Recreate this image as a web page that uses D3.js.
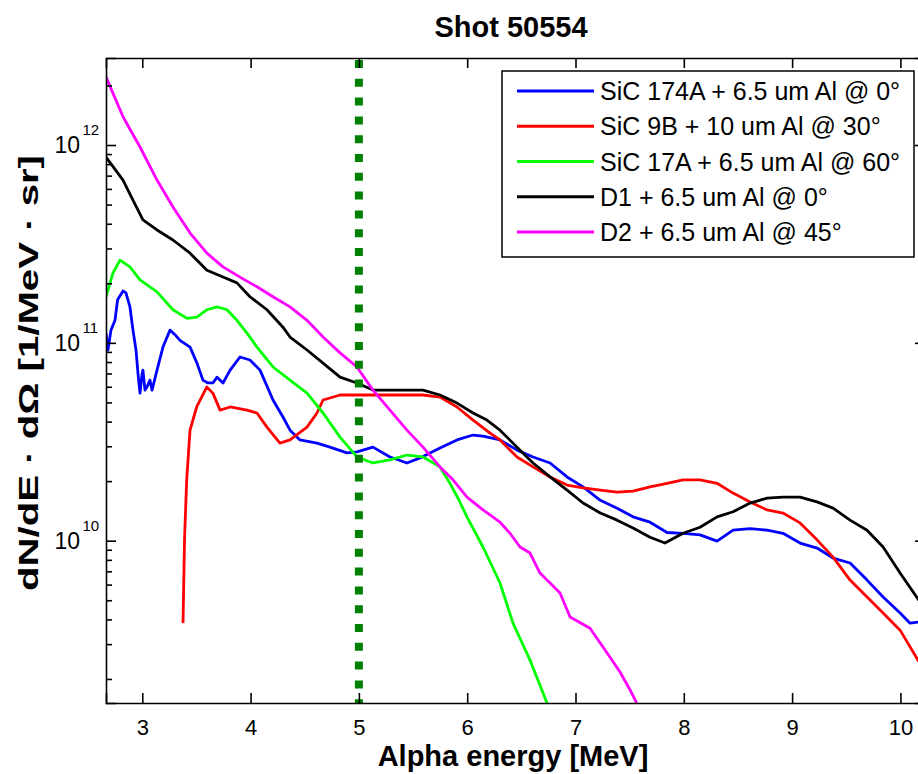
<!DOCTYPE html>
<html><head><meta charset="utf-8">
<script src="https://cdn.jsdelivr.net/npm/d3@7"></script>
<style>
html,body{margin:0;padding:0;background:#fff;}
svg{display:block;font-family:"Liberation Sans",Arial,sans-serif;}
</style></head>
<body>
<svg id="chart" width="918" height="774"></svg>
<script>
// ---------- data ----------
const title = "Shot 50554";
const xLabel = "Alpha energy [MeV]";
const yLabel = "dN/dE · dΩ [1/MeV · sr]";
const xTicks = [3,4,5,6,7,8,9,10];
const yMajorTicks = [1e10,1e11,1e12];
const yTickExponents = ["10","11","12"];
const xDomain = [2.665, 10.227];
const yDomain = [1.512e9, 2.753e12];
const cutEnergy = 5;

const seriesNames = [
  "SiC 174A + 6.5 um Al @ 0°",
  "SiC 9B + 10 um Al @ 30°",
  "SiC 17A + 6.5 um Al @ 60°",
  "D1 + 6.5 um Al @ 0°",
  "D2 + 6.5 um Al @ 45°"
];
const seriesColors = ["#0000ff","#ff0000","#00ff00","#000000","#ff00ff"];

const sic174A = [
 [2.665,1.12e11],[2.683,9.2e10],[2.711,1.16e11],[2.748,1.30e11],[2.772,1.65e11],[2.822,1.83e11],
 [2.849,1.79e11],[2.886,1.52e11],[2.914,1.16e11],[2.942,9.2e10],[2.960,7.03e10],[2.979,5.57e10],
 [2.997,6.9e10],[3.006,7.28e10],[3.025,5.77e10],[3.043,5.98e10],[3.071,6.48e10],[3.090,5.77e10],
 [3.136,7.28e10],[3.191,9.52e10],[3.256,1.16e11],[3.302,1.10e11],[3.348,1.03e11],[3.441,9.52e10],
 [3.505,7.9e10],[3.560,6.48e10],[3.606,6.27e10],[3.652,6.27e10],[3.690,6.71e10],[3.745,6.27e10],
 [3.811,7.28e10],[3.902,8.48e10],[3.994,8.19e10],[4.087,7.28e10],[4.207,5.14e10],[4.299,4.22e10],
 [4.364,3.62e10],[4.456,3.23e10],[4.613,3.11e10],[4.733,2.97e10],[4.890,2.78e10],[4.982,2.81e10],
 [5.130,2.97e10],[5.287,2.65e10],[5.444,2.47e10],[5.564,2.62e10],[5.749,2.94e10],[5.906,3.23e10],
 [6.054,3.42e10],[6.146,3.38e10],[6.303,3.23e10],[6.460,2.87e10],[6.608,2.65e10],[6.765,2.47e10],
 [6.922,2.10e10],[7.070,1.87e10],[7.229,1.60e10],[7.384,1.46e10],[7.531,1.32e10],[7.688,1.24e10],
 [7.845,1.10e10],[7.993,1.09e10],[8.150,1.07e10],[8.307,9.95e9],[8.455,1.13e10],[8.612,1.15e10],
 [8.769,1.13e10],[8.916,1.09e10],[9.073,9.73e9],[9.230,9.18e9],[9.378,8.17e9],[9.535,7.71e9],
 [9.692,6.32e9],[9.840,5.19e9],[9.997,4.31e9],[10.089,3.83e9],[10.17,3.88e9]
];
const sic9B = [
 [3.376,3.83e9],[3.390,1.01e10],[3.410,2.03e10],[3.441,3.62e10],[3.502,4.74e10],[3.595,5.98e10],
 [3.652,5.57e10],[3.718,4.57e10],[3.811,4.74e10],[3.967,4.57e10],[4.059,4.42e10],[4.151,3.75e10],
 [4.271,3.11e10],[4.364,3.23e10],[4.521,3.75e10],[4.613,4.42e10],[4.669,5.14e10],[4.826,5.45e10],
 [4.982,5.45e10],[5.287,5.45e10],[5.592,5.45e10],[5.749,5.32e10],[5.906,4.74e10],[6.054,4.07e10],
 [6.211,3.50e10],[6.303,3.23e10],[6.460,2.65e10],[6.608,2.36e10],[6.765,2.10e10],[6.922,1.91e10],
 [7.070,1.85e10],[7.229,1.80e10],[7.384,1.76e10],[7.531,1.78e10],[7.688,1.87e10],[7.845,1.95e10],
 [7.993,2.03e10],[8.150,2.03e10],[8.307,1.95e10],[8.455,1.74e10],[8.612,1.57e10],[8.769,1.43e10],
 [8.916,1.38e10],[9.073,1.23e10],[9.230,1.01e10],[9.378,8.26e9],[9.535,6.32e9],[9.692,5.19e9],
 [9.840,4.31e9],[9.997,3.53e9],[10.17,2.45e9]
];
const sic17A = [
 [2.665,1.71e11],[2.729,2.25e11],[2.794,2.62e11],[2.886,2.42e11],[2.979,2.08e11],[3.136,1.81e11],
 [3.283,1.47e11],[3.413,1.33e11],[3.505,1.35e11],[3.597,1.47e11],[3.690,1.52e11],[3.782,1.47e11],
 [3.874,1.30e11],[3.967,1.12e11],[4.059,9.52e10],[4.207,7.55e10],[4.364,6.48e10],[4.521,5.57e10],
 [4.669,4.42e10],[4.826,3.34e10],[4.982,2.65e10],[5.130,2.47e10],[5.287,2.56e10],[5.444,2.71e10],
 [5.592,2.65e10],[5.749,2.36e10],[5.841,1.95e10],[5.920,1.62e10],[5.998,1.32e10],[6.146,9.29e9],
 [6.303,6.11e9],[6.423,3.83e9],[6.580,2.49e9],[6.672,1.86e9],[6.737,1.51e9]
];
const d1 = [
 [2.665,8.69e11],[2.822,6.65e11],[2.914,5.27e11],[3.006,4.18e11],[3.136,3.72e11],[3.283,3.31e11],
 [3.441,2.84e11],[3.597,2.33e11],[3.745,2.15e11],[3.874,2.01e11],[3.994,1.71e11],[4.151,1.47e11],
 [4.299,1.20e11],[4.364,1.07e11],[4.521,9.2e10],[4.669,7.9e10],[4.826,6.71e10],[4.982,6.27e10],
 [5.130,5.77e10],[5.444,5.77e10],[5.592,5.77e10],[5.749,5.45e10],[5.906,4.96e10],[6.054,4.42e10],
 [6.182,4.07e10],[6.303,3.62e10],[6.460,2.97e10],[6.608,2.47e10],[6.765,2.10e10],[6.922,1.80e10],
 [7.070,1.55e10],[7.229,1.38e10],[7.384,1.27e10],[7.531,1.16e10],[7.688,1.04e10],[7.826,9.73e9],
 [7.993,1.09e10],[8.150,1.17e10],[8.307,1.32e10],[8.455,1.40e10],[8.612,1.55e10],[8.769,1.64e10],
 [8.916,1.66e10],[9.073,1.66e10],[9.230,1.57e10],[9.378,1.46e10],[9.535,1.27e10],[9.692,1.13e10],
 [9.840,9.29e9],[9.997,6.86e9],[10.17,5.0e9]
];
const d2 = [
 [2.665,2.21e12],[2.822,1.39e12],[2.979,9.77e11],[3.136,6.65e11],[3.283,4.86e11],[3.441,3.59e11],
 [3.597,2.84e11],[3.745,2.42e11],[3.902,2.15e11],[4.059,1.92e11],[4.207,1.71e11],[4.364,1.52e11],
 [4.521,1.30e11],[4.669,1.07e11],[4.826,8.9e10],[4.982,7.55e10],[5.130,5.77e10],[5.287,4.57e10],
 [5.444,3.62e10],[5.592,2.97e10],[5.749,2.36e10],[5.869,2.03e10],[5.998,1.66e10],[6.146,1.43e10],
 [6.303,1.24e10],[6.395,1.09e10],[6.488,9.29e9],[6.580,8.66e9],[6.672,6.86e9],[6.765,6.11e9],
 [6.857,5.44e9],[6.950,4.11e9],[7.134,3.61e9],[7.273,2.80e9],[7.411,2.17e9],[7.504,1.76e9],
 [7.565,1.51e9]
];
const allSeries = [sic174A, sic9B, sic17A, d1, d2];

// ---------- layout ----------
const L = 106, R = 925, T = 58, B = 703;
const svg = d3.select("#chart");
const x = d3.scaleLinear().domain(xDomain).range([L, R]);
const y = d3.scaleLog().domain(yDomain).range([B, T]);

svg.append("defs").append("clipPath").attr("id","clip")
  .append("rect").attr("x",L).attr("y",T).attr("width",R-L).attr("height",B-T);

// lines
const line = d3.line().x(d => x(d[0])).y(d => y(d[1]));
const g = svg.append("g").attr("clip-path","url(#clip)");
allSeries.forEach((s,i) => {
  g.append("path").datum(s).attr("d", line)
   .attr("fill","none").attr("stroke", seriesColors[i])
   .attr("stroke-width", 2.8).attr("stroke-linejoin","round");
});

// dashed cut line
g.append("line").attr("x1",x(cutEnergy)).attr("x2",x(cutEnergy))
  .attr("y1",T+2).attr("y2",B).attr("stroke","#008000").attr("stroke-width",8)
  .attr("stroke-dasharray","8,10.8");

// axes
const axisColor = "#000";
const xb = svg.append("g").attr("transform",`translate(0,${B})`)
  .call(d3.axisBottom(x).tickValues(xTicks).tickSize(-10).tickPadding(16).tickFormat(d3.format("d")));
const xt = svg.append("g").attr("transform",`translate(0,${T})`)
  .call(d3.axisTop(x).tickValues(xTicks).tickSize(-10).tickFormat(""));
const minor = [];
for (let e = 9; e <= 12; e++) for (let m = 2; m <= 9; m++) {
  const v = m * Math.pow(10, e);
  if (v >= yDomain[0] && v <= yDomain[1]) minor.push(v);
}
const yl = svg.append("g").attr("transform",`translate(${L},0)`)
  .call(d3.axisLeft(y).tickValues(yMajorTicks).tickSize(-10).tickFormat(""));
const ylm = svg.append("g").attr("transform",`translate(${L},0)`)
  .call(d3.axisLeft(y).tickValues(minor).tickSize(-6).tickFormat(""));
const yr = svg.append("g").attr("transform",`translate(${R},0)`)
  .call(d3.axisRight(y).tickValues(yMajorTicks).tickSize(-10).tickFormat(""));
[xb,xt,yl,ylm,yr].forEach(a => {
  a.select(".domain").attr("stroke",axisColor).attr("stroke-width",1.6);
  a.selectAll(".tick line").attr("stroke",axisColor).attr("stroke-width",1.6);
});
ylm.select(".domain").remove();
xb.selectAll(".tick text").attr("font-size",22).attr("fill","#000")
  .attr("font-family","Liberation Sans, Arial, sans-serif");

// y tick labels 10^n
yMajorTicks.forEach((v,i) => {
  svg.append("text").attr("x",80).attr("y",y(v)+8)
    .attr("text-anchor","end").attr("font-size",23).attr("fill","#000").text("10");
  svg.append("text").attr("x",82.5).attr("y",y(v)-10)
    .attr("font-size",15).attr("fill","#000").text(yTickExponents[i]);
});

// title & labels
svg.append("text").attr("x",511).attr("y",37).attr("text-anchor","middle")
  .attr("font-size",29).attr("font-weight","bold").text(title);
svg.append("text").attr("x",513).attr("y",766).attr("text-anchor","middle")
  .attr("font-size",29).attr("font-weight","bold").text(xLabel);
svg.append("text").attr("transform","translate(38,373) rotate(-90)")
  .attr("text-anchor","middle").attr("font-size",28).attr("font-weight","bold")
  .attr("textLength",436).attr("lengthAdjust","spacingAndGlyphs").text(yLabel);

// legend
const lg = svg.append("g");
lg.append("rect").attr("x",502).attr("y",71).attr("width",412).attr("height",186)
  .attr("fill","#fff").attr("stroke","#000").attr("stroke-width",1.5);
seriesNames.forEach((n,i) => {
  const ry = 91 + i*35.25;
  lg.append("line").attr("x1",517).attr("x2",594).attr("y1",ry).attr("y2",ry)
    .attr("stroke",seriesColors[i]).attr("stroke-width",2.8);
  lg.append("text").attr("x",600).attr("y",ry+9).attr("font-size",25).attr("fill","#000").text(n);
});
</script>
</body></html>
